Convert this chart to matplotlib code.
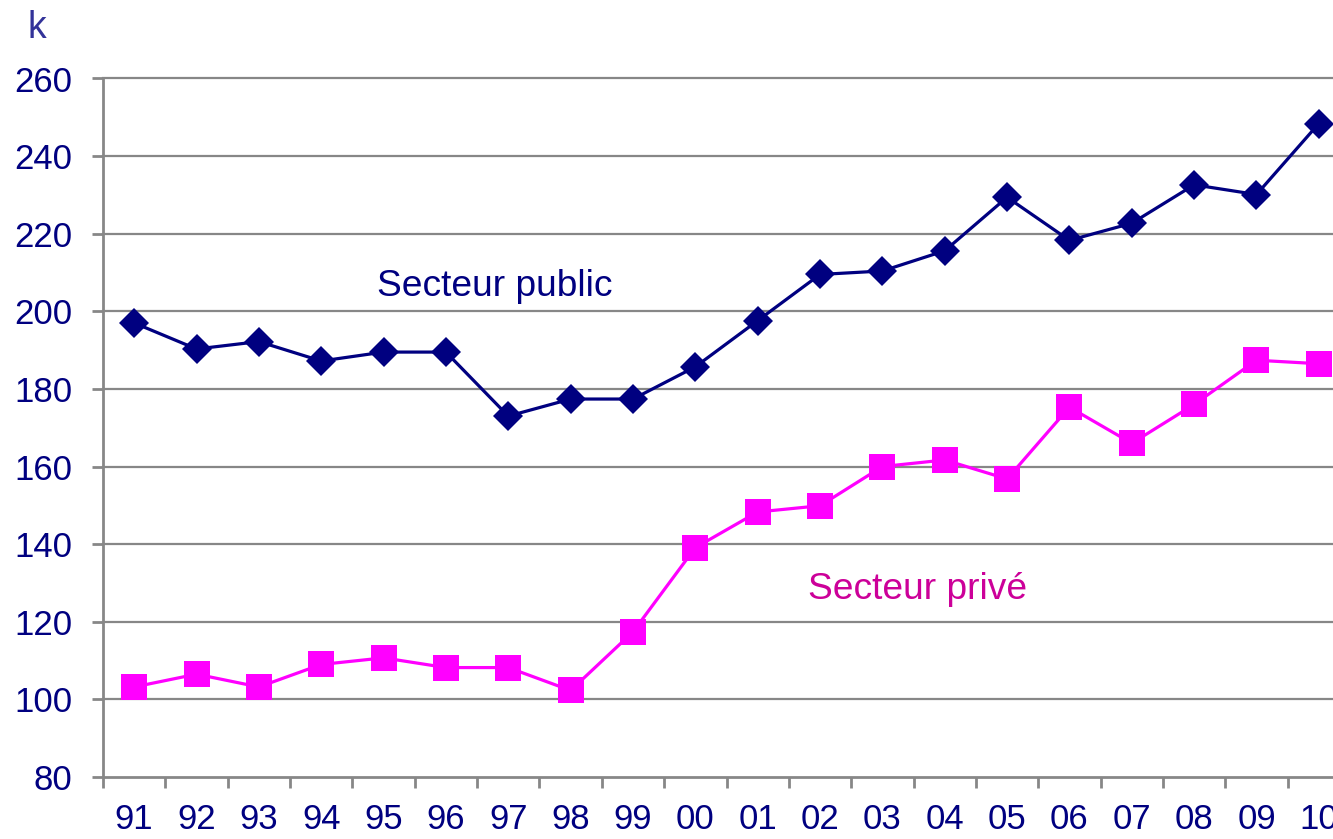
import matplotlib
matplotlib.use("Agg")
import matplotlib.pyplot as plt
import numpy as np

plt.rcParams["font.family"] = ["Liberation Sans", "DejaVu Sans"]

years = ["91", "92", "93", "94", "95", "96", "97", "98", "99", "00",
         "01", "02", "03", "04", "05", "06", "07", "08", "09", "10"]
public = [197.0, 190.3, 192.2, 187.2, 189.5, 189.5, 173.0, 177.4, 177.4, 185.7,
          197.6, 209.5, 210.4, 215.6, 229.4, 218.3, 222.7, 232.6, 230.1, 248.4]
private = [103.2, 106.5, 103.2, 109.0, 110.7, 108.2, 108.2, 102.3, 117.4, 139.1,
           148.3, 149.9, 160.0, 161.7, 156.8, 175.3, 166.0, 176.0, 187.4, 186.5]
yticks = list(range(80, 261, 20))

NAVY = "#000080"
MAGENTA = "#FF00FF"
GRID = "#878787"

W, H = 1333, 839
fig = plt.figure(figsize=(W / 100, H / 100), dpi=100)
# right edge of the plot area is cut off by the image in the original
ax = fig.add_axes([103 / W, 62 / H, 1247 / W, 698.5 / H])

x = np.arange(len(years))
ax.plot(x, public, color=NAVY, linewidth=2.3, marker="D", markersize=15.5,
        markeredgewidth=0, zorder=3, clip_on=False)
ax.plot(x, private, color=MAGENTA, linewidth=2.3, marker="s", markersize=18.5,
        markeredgewidth=0, zorder=3, clip_on=False)

ax.set_xlim(-0.5, len(years) - 0.5)
ax.set_ylim(80, 260)

# category boundaries get the tick marks, centres get the labels
ax.set_xticks(np.arange(-0.5, len(years) + 0.5, 1.0))
ax.set_xticklabels([])
ax.set_xticks(x, minor=True)
ax.set_xticklabels(years, minor=True)
ax.tick_params(axis="x", which="major", length=8, width=2, color=GRID)
ax.tick_params(axis="x", which="minor", length=0, pad=19,
               labelsize=25, labelcolor=NAVY)

ax.set_yticks(yticks)
ax.tick_params(axis="y", length=8, width=2, color=GRID, pad=14,
               labelsize=25, labelcolor=NAVY)

for v in yticks[1:]:
    ax.axhline(v, color=GRID, linewidth=1.6, zorder=1, clip_on=False)

for side in ("top", "right"):
    ax.spines[side].set_visible(False)
for side in ("left", "bottom"):
    ax.spines[side].set_color(GRID)
    ax.spines[side].set_linewidth(2)

ax.text(5.78, 206.5, "Secteur public", color=NAVY, fontsize=26.7,
        ha="center", va="center")
ax.text(12.57, 128.4, "Secteur privé", color="#CC0099", fontsize=26.7,
        ha="center", va="center")
fig.text(37 / W, 1 - 28 / H, "k", color="#333399", fontsize=27,
         ha="center", va="center")

fig.savefig("out.png", dpi=100)
